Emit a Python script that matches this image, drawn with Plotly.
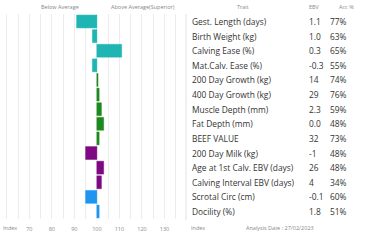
import plotly.graph_objects as go

traits = ["Gest. Length (days)", "Birth Weight (kg)", "Calving Ease (%)", "Mat.Calv. Ease (%)",
          "200 Day Growth (kg)", "400 Day Growth (kg)", "Muscle Depth (mm)", "Fat Depth (mm)",
          "BEEF VALUE", "200 Day Milk (kg)", "Age at 1st Calv. EBV (days)",
          "Calving Interval EBV (days)", "Scrotal Circ (cm)", "Docility (%)"]
ebv = ["1.1", "1.0", "0.3", "-0.3", "14", "29", "2.3", "0.0", "32", "-1", "26", "4", "-0.1", "1.8"]
acc = ["77%", "63%", "65%", "55%", "74%", "76%", "59%", "48%", "73%", "48%", "48%", "34%", "60%", "51%"]
index_vals = [91, 98, 111, 98, 100.5, 101, 102, 103, 101, 95, 103, 102, 95, 101]
groups = ["calving"] * 4 + ["growth"] * 5 + ["maternal"] * 3 + ["other"] * 2
group_colors = {"calving": "#1fb5b3", "growth": "#1e8a1e", "maternal": "#7d0a82", "other": "#1e96f0"}
tick_vals = [60, 65, 70, 75, 80, 85, 90, 95, 100, 105, 110, 115, 120, 125, 130, 135]
tick_text = ["", "", "70", "", "80", "", "90", "", "100", "", "110", "", "120", "", "130", ""]

W, H = 367, 242
T, B = 14, 23
colors = [group_colors[g] for g in groups]
fig = go.Figure(go.Bar(
    y=traits, x=[v - 100 for v in index_vals], base=100, orientation="h",
    marker=dict(color=colors, line=dict(color=colors, width=0.5)),
    hoverinfo="skip"))

fig.update_layout(
    width=W, height=H, margin=dict(l=0, r=0, t=T, b=B),
    paper_bgcolor="white", plot_bgcolor="white", showlegend=False, bargap=0.12,
    font=dict(family="Open Sans", color="#333"),
    xaxis=dict(domain=[0, 178 / W], range=[57, 136], tickvals=tick_vals, ticktext=tick_text,
               showgrid=True, gridcolor="#ececec", gridwidth=1, zeroline=False,
               showline=False, ticks="", ticklabelstandoff=5,
               tickfont=dict(size=5.5, color="#888")),
    yaxis=dict(autorange="reversed", showticklabels=False, showgrid=False, zeroline=False),
)

def py(ypx):
    return (H - B - ypx) / (H - T - B)

ann = []
def add(x, y, text, size, color="#333", xanchor="left", yref="paper"):
    ann.append(dict(x=x / W, y=y if yref == "y" else py(y), xref="paper", yref=yref,
                    text=text, showarrow=False, xanchor=xanchor, yanchor="middle",
                    font=dict(size=size, color=color)))

add(60, 7, "Below Average", 5.5, "#888", "center")
add(143, 7, "Above Average(Superior)", 5.5, "#888", "center")
add(243, 7, "Trait", 5.5, "#888", "center")
add(314, 7, "EBV", 5.5, "#888", "center")
add(346, 7, "Acc %", 5.5, "#888", "center")
for t, e, a in zip(traits, ebv, acc):
    add(190, t, t, 8.4, "#333", "left", "y")
    add(307, t, e, 8.4, "#333", "left", "y")
    add(328, t, a, 8.4, "#333", "left", "y")
add(1, 228, "Index", 5.5, "#888", "left")
add(189, 228, "Index", 5.5, "#888", "left")
add(244, 228, "Analysis Date : 27/02/2023", 5.5, "#888", "left")
fig.update_layout(annotations=ann)
fig.add_shape(type="line", xref="paper", yref="paper", x0=186 / W, x1=186 / W,
              y0=py(14), y1=py(220), line=dict(color="#e2e2e2", width=1))

fig.write_html("out.html")
